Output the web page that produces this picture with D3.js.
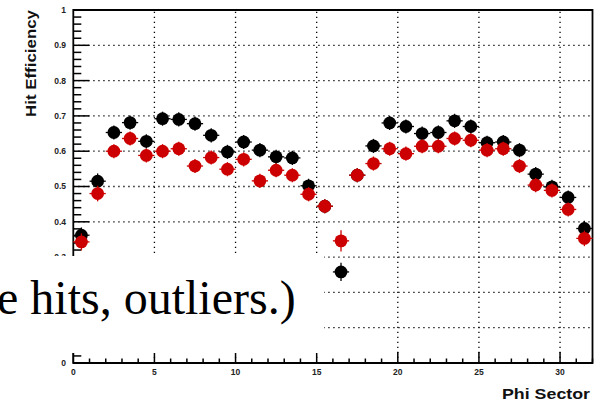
<!DOCTYPE html>
<html><head><meta charset="utf-8">
<script src="https://cdn.jsdelivr.net/npm/d3@7"></script>
<style>html,body{margin:0;padding:0;background:#fff;}svg{display:block;}</style>
</head><body>
<script>
const sectors = [0,1,2,3,4,5,6,7,8,9,10,11,12,13,14,15,16,17,18,19,20,21,22,23,24,25,26,27,28,29,30,31];
const blackVals = [0.362,0.515,0.653,0.681,0.628,0.692,0.690,0.678,0.645,0.598,0.626,0.603,0.584,0.581,0.502,0.444,0.258,0.532,0.615,0.680,0.670,0.650,0.653,0.686,0.670,0.624,0.626,0.603,0.535,0.499,0.469,0.381];
const redVals   = [0.343,0.480,0.600,0.636,0.588,0.600,0.607,0.558,0.582,0.549,0.577,0.516,0.546,0.532,0.478,0.444,0.346,0.532,0.565,0.607,0.593,0.614,0.614,0.636,0.631,0.603,0.607,0.558,0.504,0.489,0.435,0.353];
const blackErr  = [0.022,0.022,0.02,0.02,0.02,0.02,0.02,0.02,0.02,0.02,0.02,0.02,0.02,0.02,0.02,0.02,0.026,0.02,0.02,0.02,0.02,0.02,0.02,0.02,0.02,0.02,0.02,0.02,0.02,0.02,0.02,0.022];
const redErr    = [0.024,0.022,0.02,0.02,0.02,0.02,0.02,0.02,0.02,0.02,0.02,0.02,0.02,0.02,0.02,0.02,0.03,0.02,0.02,0.02,0.02,0.02,0.02,0.02,0.02,0.02,0.02,0.02,0.02,0.02,0.02,0.022];
// labels 0.1 and 0.2 are hidden behind the slide text box in the reference
const yTickVals = [0,0.3,0.4,0.5,0.6,0.7,0.8,0.9,1];
const yTickLabels = ["0","0.3","0.4","0.5","0.6","0.7","0.8","0.9","1"];
const yGridVals = [0.1,0.2,0.3,0.4,0.5,0.6,0.7,0.8,0.9];
const xTickVals = [0,5,10,15,20,25,30];
const xTickLabels = ["0","5","10","15","20","25","30"];
const xTitle = "Phi Sector";
const yTitle = "Hit Efficiency";
const overlayText = "e hits, outliers.)";

const W = 603, H = 402;
const svg = d3.select("body").append("svg").attr("width", W).attr("height", H);
const x = d3.scaleLinear().domain([0, 32]).range([73.3, 592.5]);
const y = d3.scaleLinear().domain([0, 1]).range([363, 10]);

// grid
const grid = svg.append("g").attr("stroke", "#000").attr("stroke-width", 1.3).attr("stroke-dasharray", "1.3,3.7");
grid.selectAll("line.h").data(yGridVals).join("line")
  .attr("x1", x(0)).attr("x2", x(32)).attr("y1", d => y(d)).attr("y2", d => y(d));
grid.selectAll("line.v").data(xTickVals.filter(v => v > 0)).join("line")
  .attr("x1", d => x(d)).attr("x2", d => x(d)).attr("y1", y(0)).attr("y2", y(1));

// y axis ticks (inside)
const yMinor = d3.range(0, 51).map(i => i * 0.02);
svg.append("g").selectAll("line").data(yMinor).join("line")
  .attr("x1", x(0)).attr("x2", (d, i) => x(0) + (i % 5 === 0 ? 16 : 8))
  .attr("y1", d => y(d)).attr("y2", d => y(d))
  .attr("stroke", "#000").attr("stroke-width", 1.5);
// x axis ticks
const xMinor = d3.range(0, 33);
svg.append("g").selectAll("line").data(xMinor).join("line")
  .attr("x1", d => x(d)).attr("x2", d => x(d))
  .attr("y1", y(0)).attr("y2", d => y(0) - (d % 5 === 0 ? 11 : 4.5))
  .attr("stroke", "#000").attr("stroke-width", 1.5);

// frame
svg.append("path")
  .attr("d", `M${x(0)},${y(1)}H${x(32)}V${y(0)}H${x(0)}Z`)
  .attr("fill", "none").attr("stroke", "#000").attr("stroke-width", 1.8);

// tick labels
const lblFont = "'Liberation Sans', Arial, sans-serif";
svg.append("g").selectAll("text").data(yTickVals).join("text")
  .attr("x", 66).attr("y", d => y(d)).attr("dy", "0.35em")
  .attr("text-anchor", "end").attr("font-family", lblFont).attr("font-weight", "bold")
  .attr("font-size", 8.5).attr("fill", "#222")
  .text((d, i) => yTickLabels[i]);
svg.append("g").selectAll("text").data(xTickVals).join("text")
  .attr("x", d => x(d)).attr("y", 375)
  .attr("text-anchor", "middle").attr("font-family", lblFont).attr("font-weight", "bold")
  .attr("font-size", 8.5).attr("fill", "#222")
  .text((d, i) => xTickLabels[i]);

// titles
svg.append("text").attr("x", 590).attr("y", 399).attr("text-anchor", "end")
  .attr("font-family", lblFont).attr("font-weight", "bold").attr("font-size", 15.5)
  .attr("fill", "#111").attr("textLength", 88).attr("lengthAdjust", "spacingAndGlyphs")
  .text(xTitle);
svg.append("text").attr("transform", "translate(36,10) rotate(-90)").attr("text-anchor", "end")
  .attr("font-family", lblFont).attr("font-weight", "bold").attr("font-size", 15)
  .attr("fill", "#111").attr("textLength", 107).attr("lengthAdjust", "spacingAndGlyphs")
  .text(yTitle);

// data series
function drawSeries(vals, errs, color) {
  const g = svg.append("g");
  const pts = sectors.map((s, i) => ({ s, v: vals[i], e: errs[i] }));
  g.selectAll("line.ex").data(pts).join("line")
    .attr("x1", d => x(d.s)).attr("x2", d => x(d.s + 1))
    .attr("y1", d => y(d.v)).attr("y2", d => y(d.v))
    .attr("stroke", color).attr("stroke-width", 1.3);
  g.selectAll("line.ey").data(pts).join("line")
    .attr("x1", d => x(d.s + 0.5)).attr("x2", d => x(d.s + 0.5))
    .attr("y1", d => y(d.v - d.e)).attr("y2", d => y(d.v + d.e))
    .attr("stroke", color).attr("stroke-width", 1.3);
  g.selectAll("circle").data(pts).join("circle")
    .attr("cx", d => x(d.s + 0.5)).attr("cy", d => y(d.v)).attr("r", 6.4)
    .attr("fill", color);
}
drawSeries(blackVals, blackErr, "#000");
drawSeries(redVals, redErr, "#cc0000");

// overlay box with text (from slide)
svg.append("rect").attr("x", 0).attr("y", 256).attr("width", 324).attr("height", 97).attr("fill", "#fff");
svg.append("text").attr("x", -3).attr("y", 314)
  .attr("font-family", "'Liberation Serif', 'Times New Roman', serif").attr("font-size", 48)
  .attr("fill", "#000").text(overlayText);
</script>
</body></html>
